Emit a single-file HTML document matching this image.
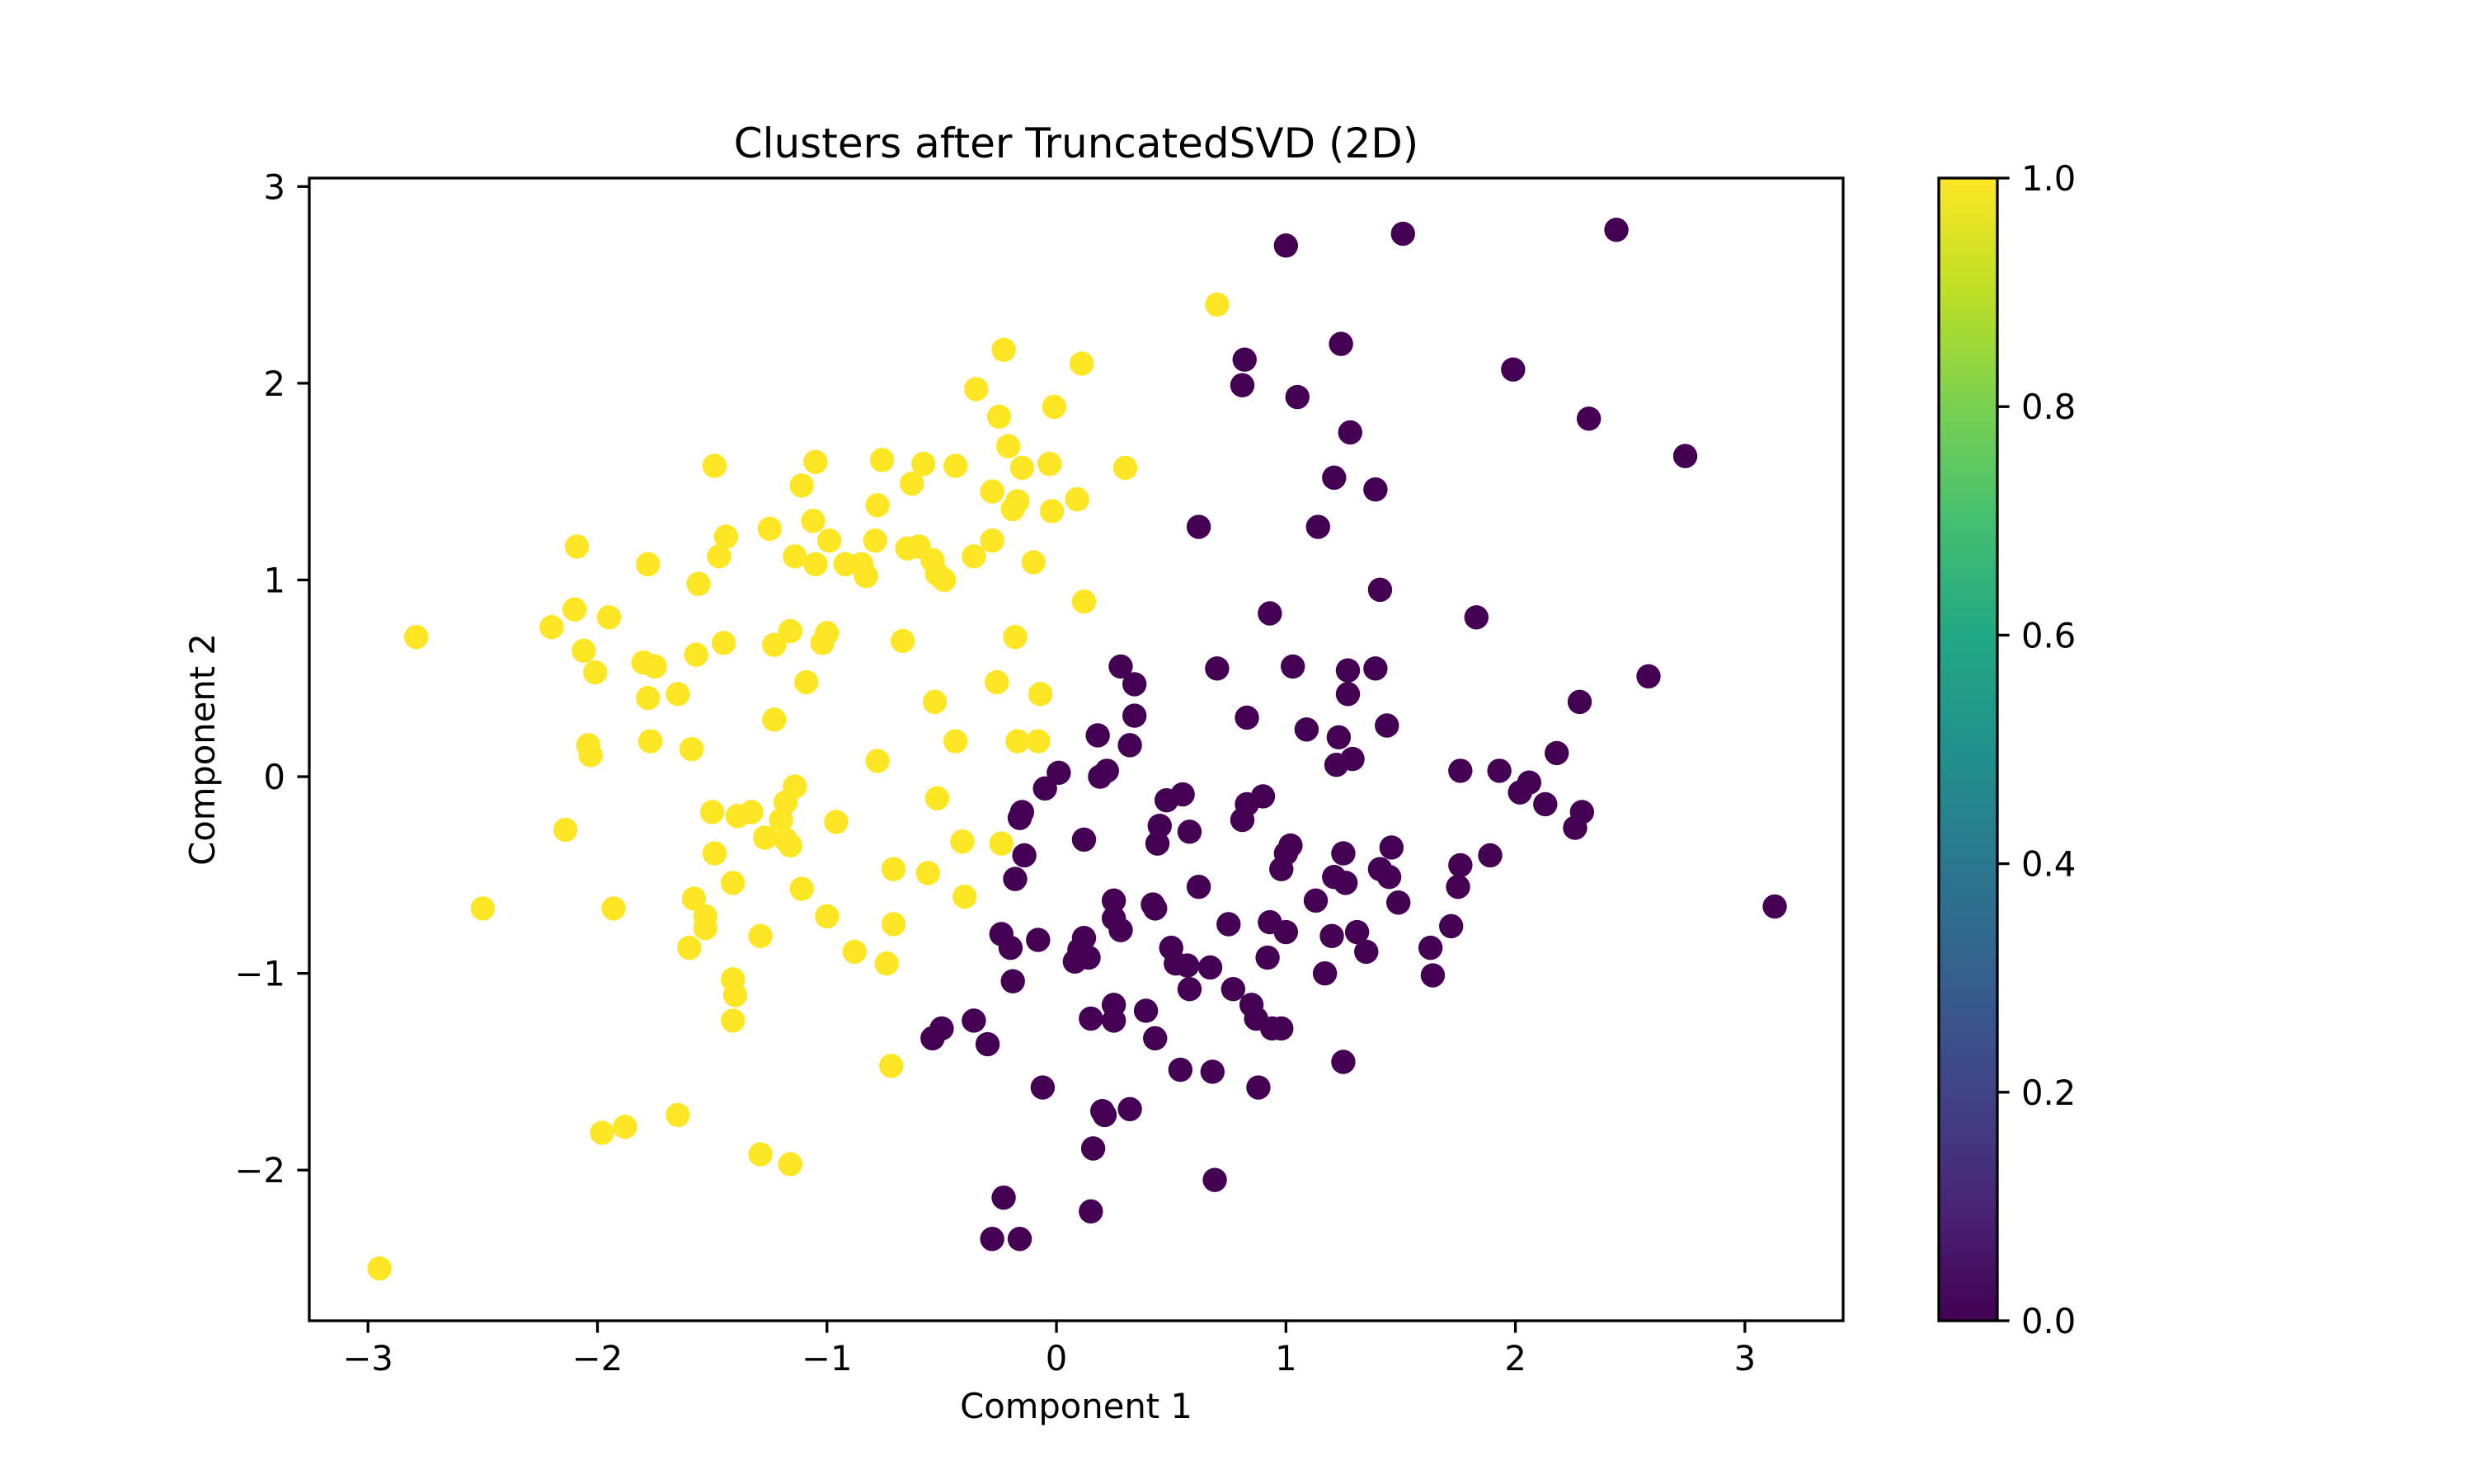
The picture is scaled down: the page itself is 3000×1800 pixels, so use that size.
<!DOCTYPE html>
<html><head><meta charset="utf-8"><style>html,body{margin:0;padding:0;background:#fff}svg{display:block}text{font-family:"DejaVu Sans","Liberation Sans",sans-serif;fill:#000}</style></head>
<body>
<svg id="chart" xmlns="http://www.w3.org/2000/svg" width="3000" height="1800" viewBox="0 0 3000 1800">
<defs><linearGradient id="vir" x1="0" y1="1" x2="0" y2="0">
<stop offset="0" stop-color="#440154"/><stop offset="0.1" stop-color="#482475"/><stop offset="0.2" stop-color="#414487"/><stop offset="0.3" stop-color="#355f8d"/><stop offset="0.4" stop-color="#2a788e"/><stop offset="0.5" stop-color="#21918c"/><stop offset="0.6" stop-color="#22a884"/><stop offset="0.7" stop-color="#44bf70"/><stop offset="0.8" stop-color="#7ad151"/><stop offset="0.9" stop-color="#bddf26"/><stop offset="1" stop-color="#fde725"/></linearGradient></defs>
<rect width="3000" height="1800" fill="#fff"/>
<text x="1305" y="191" font-size="50" text-anchor="middle">Clusters after TruncatedSVD (2D)</text>
<g id="points"></g>
<rect x="375" y="216" width="1860" height="1386" fill="none" stroke="#000" stroke-width="3.3"/>
<g id="xticks"></g>
<g id="yticks"></g>
<text x="1305" y="1720" font-size="41.7" text-anchor="middle">Component 1</text>
<text x="0" y="0" font-size="41.7" text-anchor="middle" transform="translate(260,909) rotate(-90)">Component 2</text>
<rect x="2351" y="216" width="71" height="1386" fill="url(#vir)"/>
<rect x="2351" y="216" width="71" height="1386" fill="none" stroke="#000" stroke-width="3.3"/>
<g id="cticks"></g>
</svg>
<script>
const yellowX=[-2.79,-2.95,-2.50,-2.20,-2.14,-2.10,-2.09,-2.06,-2.04,-2.03,-2.01,-1.98,-1.95,-1.93,-1.88,-1.80,-1.78,-1.78,-1.77,-1.75,-1.65,-1.65,-1.60,-1.59,-1.58,-1.57,-1.56,-1.53,-1.53,-1.50,-1.49,-1.49,-1.47,-1.45,-1.44,-1.41,-1.41,-1.40,-1.41,-1.39,-1.33,-1.29,-1.29,-1.27,-1.25,-1.23,-1.23,-1.20,-1.18,-1.18,-1.16,-1.16,-1.16,-1.14,-1.14,-1.11,-1.11,-1.09,-1.06,-1.05,-1.05,-1.02,-1.00,-1.00,-0.99,-0.96,-0.92,-0.88,-0.85,-0.83,-0.79,-0.78,-0.78,-0.76,-0.74,-0.72,-0.71,-0.71,-0.67,-0.65,-0.63,-0.60,-0.58,-0.56,-0.54,-0.53,-0.52,-0.52,-0.49,-0.44,-0.44,-0.41,-0.40,-0.36,-0.35,-0.28,-0.28,-0.26,-0.25,-0.24,-0.23,-0.21,-0.19,-0.18,-0.17,-0.17,-0.15,-0.10,-0.08,-0.07,-0.03,-0.02,-0.01,0.09,0.11,0.12,0.30,0.70];
const yellowY=[0.71,-2.50,-0.67,0.76,-0.27,0.85,1.17,0.64,0.16,0.11,0.53,-1.81,0.81,-0.67,-1.78,0.58,1.08,0.40,0.18,0.56,0.42,-1.72,-0.87,0.14,-0.62,0.62,0.98,-0.71,-0.77,-0.18,1.58,-0.39,1.12,0.68,1.22,-0.54,-1.03,-1.11,-1.24,-0.20,-0.18,-1.92,-0.81,-0.31,1.26,0.67,0.29,-0.22,-0.13,-0.32,0.74,-0.35,-1.97,1.12,-0.05,-0.57,1.48,0.48,1.30,1.08,1.60,0.68,0.73,-0.71,1.20,-0.23,1.08,-0.89,1.08,1.02,1.20,0.08,1.38,1.61,-0.95,-1.47,-0.47,-0.75,0.69,1.16,1.49,1.17,1.59,-0.49,1.10,0.38,-0.11,1.03,1.00,1.58,0.18,-0.33,-0.61,1.12,1.97,1.45,1.20,0.48,1.83,-0.34,2.17,1.68,1.36,0.71,1.40,0.18,1.57,1.09,0.18,0.42,1.59,1.35,1.88,1.41,2.10,0.89,1.57,2.40];
const purpleX=[-0.54,-0.50,-0.36,-0.30,-0.28,-0.23,-0.16,-0.24,-0.20,-0.19,-0.18,-0.16,-0.15,-0.14,-0.08,-0.06,-0.05,0.01,0.08,0.10,0.12,0.12,0.14,0.15,0.16,0.15,0.18,0.19,0.20,0.22,0.21,0.25,0.25,0.25,0.25,0.28,0.28,0.32,0.32,0.34,0.34,0.39,0.42,0.43,0.43,0.44,0.45,0.48,0.50,0.52,0.54,0.55,0.57,0.58,0.58,0.62,0.62,0.67,0.68,0.69,0.70,0.75,0.77,0.81,0.81,0.82,0.83,0.83,0.85,0.87,0.88,0.90,0.92,0.93,0.93,0.94,0.98,0.98,1.00,1.00,1.00,1.02,1.03,1.05,1.09,1.13,1.14,1.17,1.20,1.21,1.21,1.22,1.23,1.24,1.25,1.26,1.25,1.27,1.27,1.28,1.29,1.31,1.35,1.39,1.39,1.41,1.41,1.44,1.45,1.46,1.49,1.51,1.63,1.64,1.72,1.75,1.76,1.76,1.83,1.89,1.93,1.99,2.02,2.06,2.13,2.18,2.26,2.28,2.29,2.32,2.44,2.58,2.74,3.13];
const purpleY=[-1.33,-1.28,-1.24,-1.36,-2.35,-2.14,-2.35,-0.80,-0.87,-1.04,-0.52,-0.21,-0.18,-0.40,-0.83,-1.58,-0.06,0.02,-0.94,-0.88,-0.32,-0.82,-0.92,-1.23,-1.89,-2.21,0.21,0.00,-1.70,0.03,-1.72,-1.24,-1.16,-0.63,-0.72,-0.78,0.56,-1.69,0.16,0.47,0.31,-1.19,-0.65,-1.33,-0.67,-0.34,-0.25,-0.12,-0.87,-0.95,-1.49,-0.09,-0.96,-0.28,-1.08,-0.56,1.27,-0.97,-1.50,-2.05,0.55,-0.75,-1.08,-0.22,1.99,2.12,-0.14,0.30,-1.16,-1.23,-1.58,-0.10,-0.92,0.83,-0.74,-1.28,-1.28,-0.47,-0.79,2.70,-0.39,-0.35,0.56,1.93,0.24,-0.63,1.27,-1.00,-0.81,-0.51,1.52,0.06,0.20,2.20,-0.39,-0.54,-1.45,0.54,0.42,1.75,0.09,-0.79,-0.89,1.46,0.55,0.95,-0.47,0.26,-0.51,-0.36,-0.64,2.76,-0.87,-1.01,-0.76,-0.56,-0.45,0.03,0.81,-0.40,0.03,2.07,-0.08,-0.03,-0.14,0.12,-0.26,0.38,-0.18,1.82,2.78,0.51,1.63,-0.66];
const xTicks=[-3,-2,-1,0,1,2,3];
const yTicks=[-2,-1,0,1,2,3];
const cTicks=[0.0,0.2,0.4,0.6,0.8,1.0];
const NS="http://www.w3.org/2000/svg";
const X0=375,X1=2235,Y0=216,Y1=1602,XMIN=-3.256,XMAX=3.428,YMIN=-2.766,YMAX=3.043;
const sx=v=>X0+(v-XMIN)/(XMAX-XMIN)*(X1-X0);
const sy=v=>Y1-(v-YMIN)/(YMAX-YMIN)*(Y1-Y0);
function mk(tag,attrs,parent){const e=document.createElementNS(NS,tag);for(const k in attrs)e.setAttribute(k,attrs[k]);parent.appendChild(e);return e;}
const pts=document.getElementById('points');
purpleX.forEach((v,i)=>{const c=mk('circle',{cx:sx(v),cy:sy(purpleY[i]),r:14.7,fill:'#440154'},pts);

});
yellowX.forEach((v,i)=>{const c=mk('circle',{cx:sx(v),cy:sy(yellowY[i]),r:14.7,fill:'#fde725'},pts);

});
const minus=t=>t<0?'\u2212'+Math.abs(t):String(t);
const xg=document.getElementById('xticks');
xTicks.forEach(t=>{const x=sx(t);mk('line',{x1:x,x2:x,y1:Y1,y2:Y1+14.6,stroke:'#000','stroke-width':3.3},xg);
const l=mk('text',{x:x,y:Y1+60,'font-size':41.7,'text-anchor':'middle'},xg);l.textContent=minus(t);

});
const yg=document.getElementById('yticks');
yTicks.forEach(t=>{const y=sy(t);mk('line',{x1:X0-14.6,x2:X0,y1:y,y2:y,stroke:'#000','stroke-width':3.3},yg);
const l=mk('text',{x:X0-29,y:y+15,'font-size':41.7,'text-anchor':'end'},yg);l.textContent=minus(t);

});
const cg=document.getElementById('cticks');
cTicks.forEach(t=>{const y=1602-t*1386;mk('line',{x1:2422,x2:2436.6,y1:y,y2:y,stroke:'#000','stroke-width':3.3},cg);
const l=mk('text',{x:2451,y:y+15,'font-size':41.7},cg);l.textContent=t.toFixed(1);

});
</script>
</body></html>
